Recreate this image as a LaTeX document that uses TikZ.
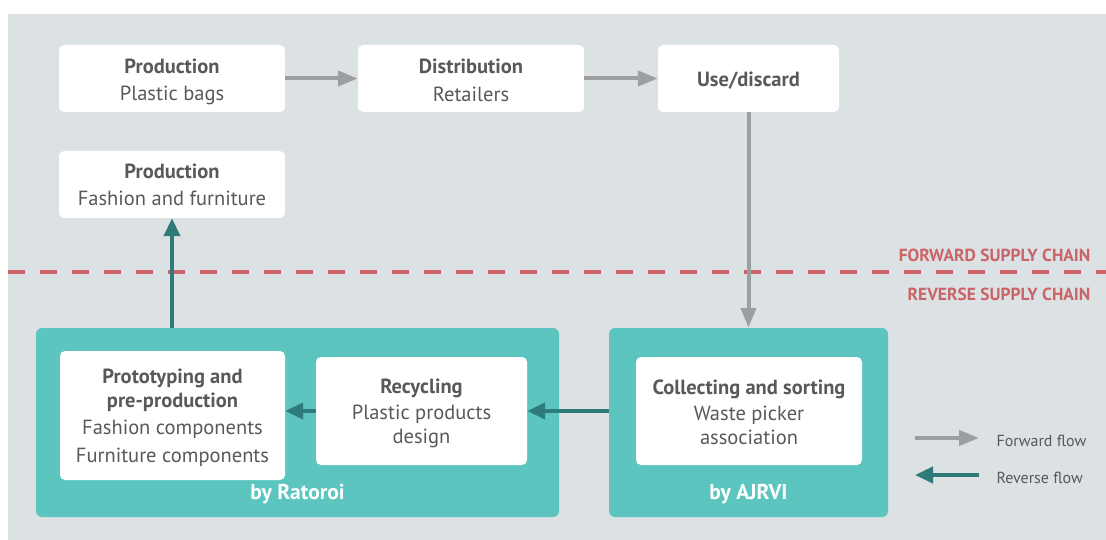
\documentclass[tikz,border=0pt]{standalone}
\usepackage{fontspec}
\setmainfont{PT Sans}
\usetikzlibrary{arrows.meta}
\definecolor{bggray}{HTML}{DCE1E3}
\definecolor{tealbox}{HTML}{5CC5BF}
\definecolor{tealdark}{HTML}{2E7B79}
\definecolor{arrowgray}{HTML}{9C9EA1}
\definecolor{chainred}{HTML}{CB6468}
\definecolor{textgray}{HTML}{58595B}
\tikzset{
  whitebox/.style={fill=white, rounded corners=5pt, inner sep=0pt},
  boxtext/.style={align=center, text=textgray, inner sep=0pt,
    font=\fontsize{20.5}{27.5}\selectfont},
  tealcontainer/.style={fill=tealbox, rounded corners=6pt, inner sep=0pt},
  fwdarrow/.style={draw=arrowgray, line width=4pt, -{Triangle[length=20pt,width=15pt]}},
  revarrow/.style={draw=tealdark, line width=4pt, -{Triangle[length=18pt,width=16pt]}},
  bylabel/.style={text=white, font=\fontsize{21.5}{24}\selectfont\bfseries},
  chainlabel/.style={text=chainred, font=\fontsize{17.5}{20}\selectfont\bfseries, anchor=east},
  legendtext/.style={text=textgray, font=\fontsize{16}{19}\selectfont, anchor=west}
}
\begin{document}
\begin{tikzpicture}[x=1pt, y=-1pt]
\useasboundingbox (0,0) rectangle (1106,540);
\fill[bggray] (8,14) rectangle (1106,540);

% forward chain boxes
\node[whitebox, minimum width=226pt, minimum height=67pt] (prodbags) at (172,78.5) {};
\node[boxtext] (prodbagsT) at ([yshift=-3.5pt]prodbags.center) {\textbf{Production}\\Plastic bags};
\node[whitebox, minimum width=226pt, minimum height=67pt] (dist) at (471,78.5) {};
\node[boxtext] (distT) at ([yshift=-2pt]dist.center) {\textbf{Distribution}\\Retailers};
\node[whitebox, minimum width=181pt, minimum height=67pt] (use) at (748.5,78.5) {};
\node[boxtext] (useT) at ([yshift=-2pt]use.center) {\textbf{Use/discard}};
\node[whitebox, minimum width=226pt, minimum height=67pt] (prodfash) at (172,184.5) {};
\node[boxtext] (prodfashT) at ([yshift=-0.5pt]prodfash.center) {\textbf{Production}\\Fashion and furniture};

% teal containers
\node[tealcontainer, minimum width=523pt, minimum height=189pt] (ratoroi) at (297.5,422.5) {};
\node[tealcontainer, minimum width=279pt, minimum height=189pt] (ajrvi) at (748.5,422.5) {};
\node[bylabel] (byrat) at (297.5,494) {by Ratoroi};
\node[bylabel] (byajr) at (748.5,494) {by AJRVI};

% inner boxes
\node[whitebox, minimum width=225pt, minimum height=129pt] (proto) at (172.5,415.5) {};
\node[boxtext] (protoT) at ([yshift=-2.5pt]proto.center)
  {\textbf{Prototyping and}\\[-4pt]\textbf{pre-production}\\Fashion components\\Furniture components};
\node[whitebox, minimum width=211pt, minimum height=108pt] (recyc) at (421.5,411) {};
\node[boxtext] (recycT) at ([yshift=-2pt]recyc.center)
  {\textbf{Recycling}\\[-1pt]Plastic products\\[-4pt]design};
\node[whitebox, minimum width=226pt, minimum height=108pt] (collect) at (749,411) {};
\node[boxtext] (collectT) at ([yshift=-1pt]collect.center)
  {\textbf{Collecting and sorting}\\[-1pt]Waste picker\\[-4pt]association};

% dashed divider
\coordinate (dashL) at (8,272);
\coordinate (dashR) at (1106,272);
\draw[chainred, line width=4pt, dash pattern=on 17pt off 15pt] (dashL) -- (dashR);
\node[chainlabel] (fwdchain) at (1094,255) {FORWARD SUPPLY CHAIN};
\node[chainlabel] (revchain) at (1094,294) {REVERSE SUPPLY CHAIN};

% forward flow arrows
\draw[fwdarrow] (prodbags.east) -- (dist.west);
\draw[fwdarrow] (dist.east) -- (use.west);
\draw[fwdarrow] (use.south) -- (use.south |- ajrvi.north);

% reverse flow arrows
\draw[revarrow] (ajrvi.west |- recyc.east) -- (recyc.east);
\draw[revarrow] (recyc.west) -- (proto.east |- recyc.west);
\draw[revarrow] (prodfash.south |- ratoroi.north) -- (prodfash.south);

% legend
\coordinate (lf1) at (915,438);
\coordinate (lf2) at (979,438);
\coordinate (lr1) at (979,475);
\coordinate (lr2) at (915,475);
\draw[fwdarrow] (lf1) -- (lf2);
\draw[revarrow] (lr1) -- (lr2);
\node[legendtext] (lfwd) at (993,441) {Forward flow};
\node[legendtext] (lrev) at (993,478) {Reverse flow};
\end{tikzpicture}
\end{document}
